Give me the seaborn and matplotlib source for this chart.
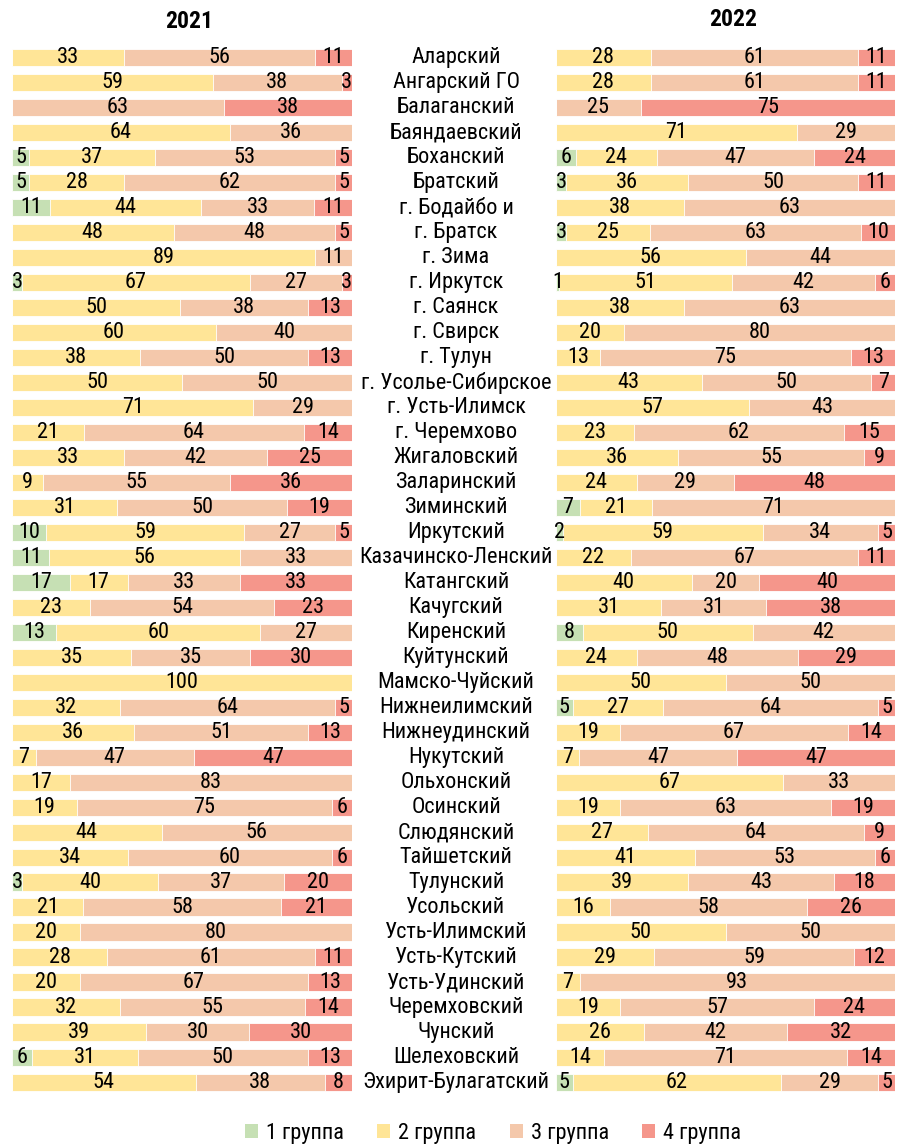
import numpy as np
import pandas as pd
import matplotlib
matplotlib.use('Agg')
import matplotlib.pyplot as plt
import matplotlib.transforms as mtransforms
from matplotlib.patches import Patch
import seaborn as sns

districts = ["Аларский", "Ангарский ГО", "Балаганский", "Баяндаевский", "Боханский", "Братский",
             "г. Бодайбо и", "г. Братск", "г. Зима", "г. Иркутск", "г. Саянск", "г. Свирск",
             "г. Тулун", "г. Усолье-Сибирское", "г. Усть-Илимск", "г. Черемхово", "Жигаловский",
             "Заларинский", "Зиминский", "Иркутский", "Казачинско-Ленский", "Катангский",
             "Качугский", "Киренский", "Куйтунский", "Мамско-Чуйский", "Нижнеилимский",
             "Нижнеудинский", "Нукутский", "Ольхонский", "Осинский", "Слюдянский", "Тайшетский",
             "Тулунский", "Усольский", "Усть-Илимский", "Усть-Кутский", "Усть-Удинский",
             "Черемховский", "Чунский", "Шелеховский", "Эхирит-Булагатский"]

groups = ["1 группа", "2 группа", "3 группа", "4 группа"]
years = ["2021", "2022"]

g1_2021 = [0, 0, 0, 0, 5, 5, 11, 0, 0, 3, 0, 0, 0, 0, 0, 0, 0, 0, 0, 10, 11, 17, 0, 13, 0, 0, 0, 0, 0, 0, 0, 0, 0, 3, 0, 0, 0, 0, 0, 0, 6, 0]
g2_2021 = [33, 59, 0, 64, 37, 28, 44, 48, 89, 67, 50, 60, 38, 50, 71, 21, 33, 9, 31, 59, 56, 17, 23, 60, 35, 100, 32, 36, 7, 17, 19, 44, 34, 40, 21, 20, 28, 20, 32, 39, 31, 54]
g3_2021 = [56, 38, 63, 36, 53, 62, 33, 48, 11, 27, 38, 40, 50, 50, 29, 64, 42, 55, 50, 27, 33, 33, 54, 27, 35, 0, 64, 51, 47, 83, 75, 56, 60, 37, 58, 80, 61, 67, 55, 30, 50, 38]
g4_2021 = [11, 3, 38, 0, 5, 5, 11, 5, 0, 3, 13, 0, 13, 0, 0, 14, 25, 36, 19, 5, 0, 33, 23, 0, 30, 0, 5, 13, 47, 0, 6, 0, 6, 20, 21, 0, 11, 13, 14, 30, 13, 8]

g1_2022 = [0, 0, 0, 0, 6, 3, 0, 3, 0, 1, 0, 0, 0, 0, 0, 0, 0, 0, 7, 2, 0, 0, 0, 8, 0, 0, 5, 0, 0, 0, 0, 0, 0, 0, 0, 0, 0, 0, 0, 0, 0, 5]
g2_2022 = [28, 28, 0, 71, 24, 36, 38, 25, 56, 51, 38, 20, 13, 43, 57, 23, 36, 24, 21, 59, 22, 40, 31, 50, 24, 50, 27, 19, 7, 67, 19, 27, 41, 39, 16, 50, 29, 7, 19, 26, 14, 62]
g3_2022 = [61, 61, 25, 29, 47, 50, 63, 63, 44, 42, 63, 80, 75, 50, 43, 62, 55, 29, 71, 34, 67, 20, 31, 42, 48, 50, 64, 67, 47, 33, 63, 64, 53, 43, 58, 50, 59, 93, 57, 42, 71, 29]
g4_2022 = [11, 11, 75, 0, 24, 11, 0, 10, 0, 6, 0, 0, 13, 7, 0, 15, 9, 48, 0, 5, 11, 40, 38, 0, 29, 0, 5, 14, 47, 0, 19, 9, 6, 18, 26, 0, 12, 0, 24, 32, 14, 5]

colors = ["#C6E0B4", "#FFE597", "#F4C8AB", "#F5968B"]

sns.set_theme(style="white")
plt.rcParams['font.family'] = ['Roboto Condensed', 'DejaVu Sans']
plt.rcParams['font.stretch'] = 'condensed'
plt.rcParams['text.color'] = 'black'

W, H = 897, 1146
fig = plt.figure(figsize=(W / 100, H / 100), dpi=100)
ax_bottom = 1 - 1094.5 / H
ax_h = 1050 / H
ax1 = fig.add_axes([12 / W, ax_bottom, 340 / W, ax_h])
ax2 = fig.add_axes([556 / W, ax_bottom, 339 / W, ax_h])

FS = 16


def draw(ax, vals):
    arr = np.array(vals, dtype=float).T
    pct = arr / arr.sum(axis=1, keepdims=True) * 100
    cum = pct.cumsum(axis=1)
    df = pd.DataFrame({"district": districts})
    for k in range(3, -1, -1):
        df["c"] = cum[:, k]
        sns.barplot(data=df, x="c", y="district", orient="h", color=colors[k],
                    saturation=1, width=0.68, edgecolor="white", linewidth=0.6,
                    ax=ax, errorbar=None)
    for i in range(len(districts)):
        for k in range(4):
            v = int(arr[i, k])
            if v > 0:
                ax.text(cum[i, k] - pct[i, k] / 2, i + 0.03, str(v), ha="center", va="center",
                        fontsize=FS, color="black")
    ax.set_xlim(0, 100)
    ax.set_ylim(len(districts) - 0.5, -0.5)
    ax.axis("off")


draw(ax1, [g1_2021, g2_2021, g3_2021, g4_2021])
draw(ax2, [g1_2022, g2_2022, g3_2022, g4_2022])

trans = mtransforms.blended_transform_factory(fig.transFigure, ax1.transData)
for i, name in enumerate(districts):
    ax1.text(456 / W, i + 0.03, name, transform=trans, ha="center", va="center",
             fontsize=FS, color="black", clip_on=False)

fig.text(189 / W, 1 - 22 / H, years[0], ha="center", va="center", fontsize=FS + 1,
         fontweight="bold", color="black")
fig.text(733 / W, 1 - 20 / H, years[1], ha="center", va="center", fontsize=FS + 1,
         fontweight="bold", color="black")

handles = [Patch(facecolor=c, edgecolor="none") for c in colors]
fig.legend(handles, groups, loc="center", bbox_to_anchor=(493 / W, 1 - 1133 / H), ncol=4,
           frameon=False, fontsize=FS, handlelength=0.6, handleheight=0.6,
           handletextpad=0.35, columnspacing=1.5, labelcolor="black")

fig.savefig("out.png", dpi=100)
